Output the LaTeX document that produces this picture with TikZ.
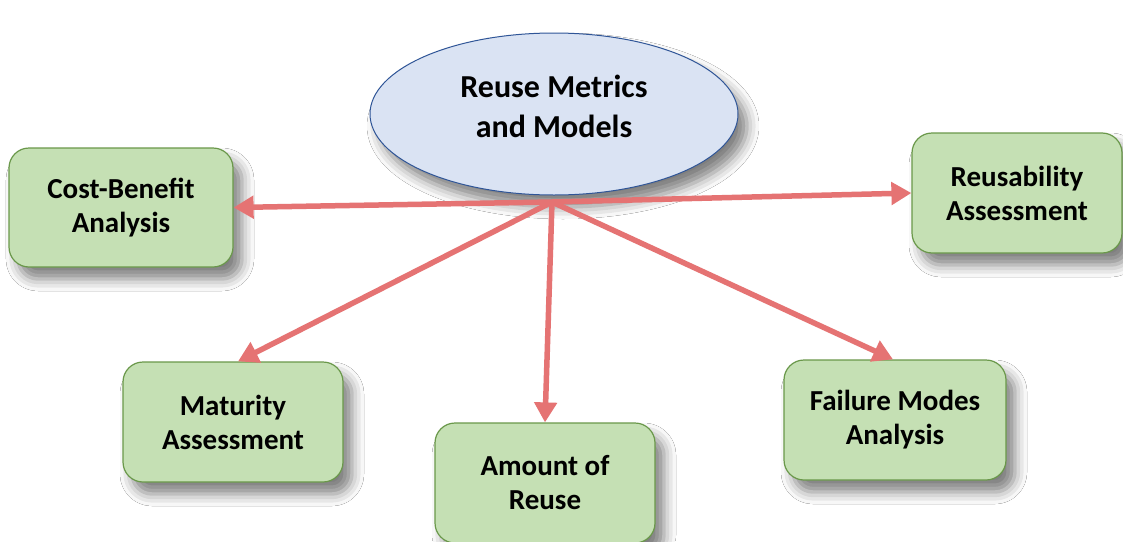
\documentclass[tikz,border=0pt]{standalone}
\usepackage{fontspec}
\setmainfont{Carlito}
\usetikzlibrary{shapes.geometric,arrows.meta,shadows.blur}
\definecolor{boxfill}{HTML}{C5E0B4}
\definecolor{boxline}{HTML}{6A984A}
\definecolor{ellfill}{HTML}{DAE3F3}
\definecolor{ellline}{HTML}{2F5597}
\definecolor{arrowred}{HTML}{E57373}
\tikzset{
  myshadow/.style={blur shadow={shadow xshift=9pt, shadow yshift=-12pt, shadow blur radius=12pt, shadow opacity=50}},
  topicbox/.style={rectangle, rounded corners=20pt, draw=boxline, line width=1.2pt, fill=boxfill,
    minimum width=220pt, minimum height=120pt, align=center, inner sep=0pt,
    font=\fontsize{29}{34}\selectfont\bfseries, myshadow},
  hubell/.style={ellipse, draw=ellline, line width=1pt, fill=ellfill, minimum width=368pt,
    minimum height=162pt, inner sep=0pt, myshadow},
  hubtext/.style={align=center, inner sep=0pt, font=\fontsize{32}{40}\selectfont\bfseries},
  link/.style={draw=arrowred, line width=5.5pt, -{Triangle[length=20pt,width=22pt]}}
}
\begin{document}
\begin{tikzpicture}[x=1pt,y=-1pt]
\useasboundingbox (0,0) rectangle (1123,541);
\clip (0,0) rectangle (1123,541);
\fill[white] (0,0) rectangle (1123,541);
\node[hubell] (rm) at (554,114) {};
\node[hubtext] (rmtext) at (554,106) {Reuse Metrics\\and Models};
\node[topicbox, minimum width=224pt, minimum height=119pt] (cb) at (121,207.5) {Cost-Benefit\\Analysis};
\node[topicbox, minimum width=210pt] (ra) at (1017,193) {Reusability\\Assessment};
\node[topicbox] (ma) at (233,422) {Maturity\\Assessment};
\node[topicbox] (am) at (545,483) {Amount of\\Reuse};
\node[topicbox, minimum width=222pt] (fm) at (895,420) {Failure Modes\\Analysis};
\coordinate (hub) at (552,202);
\draw[link] (hub) -- (cb.east);
\draw[link] (hub) -- (ra.west);
\draw[link] (hub) -- ([xshift=5pt]ma.north);
\draw[link] (hub) -- (am.north);
\draw[link] (hub) -- ([xshift=-2pt]fm.north);
\end{tikzpicture}
\end{document}
